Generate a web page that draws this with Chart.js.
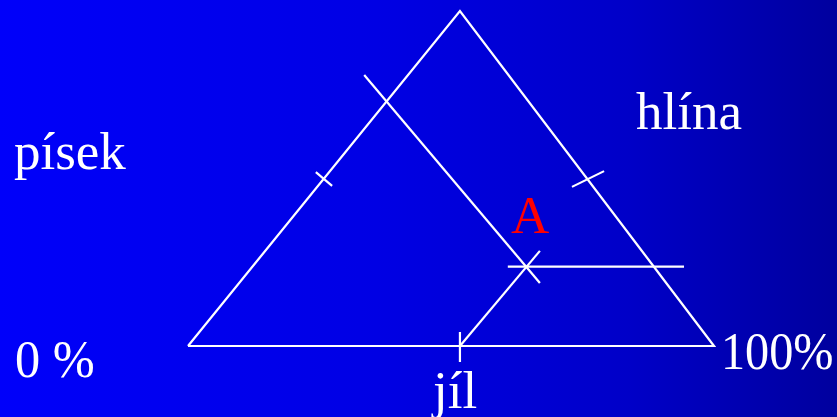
<!DOCTYPE html>
<html>
<head>
<meta charset="utf-8">
<script src="https://cdn.jsdelivr.net/npm/chart.js@4.4.1/dist/chart.umd.min.js"></script>
<style>
  html, body { margin: 0; padding: 0; }
  body {
    width: 837px; height: 417px; overflow: hidden;
    background: linear-gradient(to right, #0000fa 0%, #0000e4 45%, #0000c8 75%, #00009e 100%);
  }
  canvas { display: block; }
</style>
</head>
<body>
<canvas id="tri" width="837" height="417"></canvas>
<script>
"use strict";

// ternary diagram, x = % along the base (jíl), y = % of the height
var triangle = [[0, 0], [100, 0], [51.7, 100], [0, 0]];
var sandLine = [[33.5, 80.9], [66.9, 18.8]];
var clayLine = [[51.7, 0], [66.9, 28.4]];
var loamLine = [[60.8, 23.7], [94.3, 23.7]];
var tickLeft = [[24.3, 51.9], [27.4, 47.8]];
var tickRight = [[73.0, 47.5], [79.1, 52.2]];
var tickBottom = [[51.7, 4.2], [51.7, -4.8]];

var labelSand = 'písek';
var labelLoam = 'hlína';
var labelClay = 'jíl';
var labelPoint = 'A';
var labelMin = '0 %';
var labelMax = '100%';

function toPoints(arr) {
	return arr.map(function(p) { return {x: p[0], y: p[1]}; });
}

function lineSet(arr) {
	return {
		data: toPoints(arr),
		showLine: true,
		borderColor: '#ffffff',
		borderWidth: 2.2,
		pointRadius: 0,
		fill: false,
		tension: 0,
		clip: false,
	};
}

// draws the texts after the lines
var textPlugin = {
	id: 'texts',
	afterDraw: function(chart) {
		var ctx = chart.ctx;
		function put(text, x, y, sx, color) {
			ctx.save();
			ctx.translate(x, y);
			ctx.scale(sx, 1);
			ctx.fillStyle = color;
			ctx.fillText(text, 0, 0);
			ctx.restore();
		}
		ctx.save();
		ctx.font = "53px 'Liberation Serif', 'Times New Roman', serif";
		ctx.textBaseline = 'alphabetic';
		ctx.textAlign = 'left';
		put(labelSand, 14, 169, 1, '#ffffff');
		put(labelLoam, 636, 129, 1, '#ffffff');
		put(labelMin, 15, 377, 0.95, '#ffffff');
		put(labelMax, 721, 369, 0.91, '#ffffff');
		put(labelClay, 433, 408, 1, '#ffffff');
		put(labelPoint, 511, 233, 1, '#ff0000');
		ctx.restore();
	}
};

var ctx = document.getElementById('tri').getContext('2d');
new Chart(ctx, {
	type: 'scatter',
	data: {
		datasets: [
			lineSet(triangle),
			lineSet(sandLine),
			lineSet(clayLine),
			lineSet(loamLine),
			lineSet(tickLeft),
			lineSet(tickRight),
			lineSet(tickBottom),
		]
	},
	options: {
		responsive: false,
		animation: false,
		layout: {
			padding: {left: 188, right: 123, top: 11, bottom: 71}
		},
		plugins: {
			legend: {display: false},
			tooltip: {enabled: false},
		},
		scales: {
			x: {type: 'linear', min: 0, max: 100, display: false},
			y: {type: 'linear', min: 0, max: 100, display: false},
		}
	},
	plugins: [textPlugin]
});
</script>
</body>
</html>
